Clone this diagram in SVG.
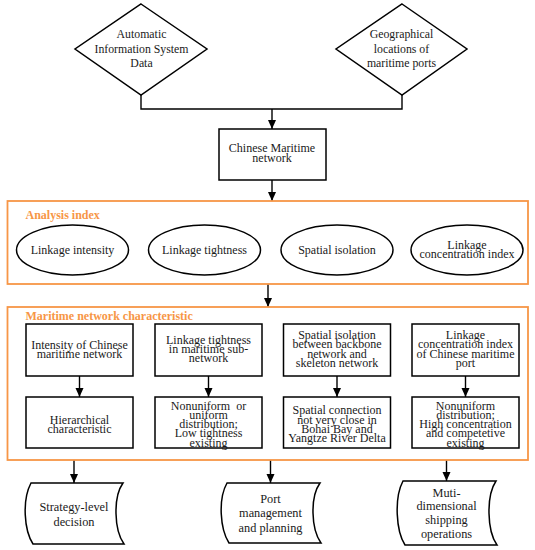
<svg xmlns="http://www.w3.org/2000/svg" width="535" height="550" viewBox="0 0 535 550">
<defs>
<marker id="arr" markerWidth="10" markerHeight="10" refX="9" refY="4" orient="auto" markerUnits="userSpaceOnUse">
<path d="M0,0 L9,4 L0,8 Z" fill="#000"/>
</marker>
<style>
.s{fill:#fff;stroke:#000;stroke-width:1.5}
.o{fill:none;stroke:#F79646;stroke-width:1.8}
.c{fill:none;stroke:#000;stroke-width:1.4}
.a{fill:none;stroke:#000;stroke-width:1.4;marker-end:url(#arr)}
text{font-family:"Liberation Serif","DejaVu Serif",serif;fill:#1a1a1a;text-anchor:middle}
.t{font-size:12px}
.d{font-size:11.8px}
.b{font-size:12.3px}
.lab{font-size:12px;font-weight:bold;fill:#F79646;text-anchor:start}
</style>
</defs>
<rect width="535" height="550" fill="#fff"/>

<g id="connectors">
<path class="c" d="M141,95 V109 H402 V95"/>
<line class="a" x1="272" y1="109" x2="272" y2="129"/>
<line class="a" x1="272" y1="180" x2="272" y2="201"/>
<line class="a" x1="268" y1="284" x2="268" y2="307"/>
<line class="a" x1="79.5" y1="376" x2="79.5" y2="397"/>
<line class="a" x1="208.5" y1="376" x2="208.5" y2="397"/>
<line class="a" x1="337" y1="376" x2="337" y2="397"/>
<line class="a" x1="465.5" y1="376" x2="465.5" y2="397"/>
<line class="a" x1="74" y1="460" x2="74" y2="483"/>
<line class="a" x1="270.5" y1="460" x2="270.5" y2="483"/>
<line class="a" x1="446.5" y1="460" x2="446.5" y2="481"/>
</g>

<g id="ais">
<polygon class="s" points="141,4 207,49 141,95 75,49"/>
<text class="d" x="141.5" y="38">Automatic</text>
<text class="d" x="141.5" y="53">Information System</text>
<text class="d" x="141.5" y="67">Data</text>
</g>
<g id="geo">
<polygon class="s" points="402,4 467,49 402,95 336,49"/>
<text class="d" x="401.5" y="38">Geographical</text>
<text class="d" x="401.5" y="53">locations of</text>
<text class="d" x="401.5" y="67">maritime ports</text>
</g>
<g id="cmn">
<rect class="s" x="219" y="129" width="107" height="51"/>
<text class="t" x="272" y="152">Chinese Maritime</text>
<text class="t" x="272" y="162">network</text>
</g>

<g id="analysis">
<rect class="o" x="7.5" y="201" width="520.5" height="83"/>
<text class="lab" x="25.5" y="219">Analysis index</text>
</g>
<g id="e1"><ellipse class="s" cx="72.5" cy="250" rx="56" ry="25"/><text class="t" x="72.5" y="254">Linkage intensity</text></g>
<g id="e2"><ellipse class="s" cx="204.5" cy="250" rx="56" ry="25"/><text class="t" x="204.5" y="254">Linkage tightness</text></g>
<g id="e3"><ellipse class="s" cx="337" cy="250" rx="56" ry="25"/><text class="t" x="337" y="254">Spatial isolation</text></g>
<g id="e4"><ellipse class="s" cx="467" cy="250" rx="56" ry="25"/><text class="t" x="467" y="248.5">Linkage</text><text class="t" x="467" y="258">concentration index</text></g>

<g id="characteristic">
<rect class="o" x="7.5" y="307" width="520.5" height="153"/>
<text class="lab" x="25.5" y="319.5">Maritime network characteristic</text>
</g>
<g id="b1"><rect class="s" x="26" y="324" width="107" height="52"/>
<text class="t" x="79.5" y="348.5">Intensity of Chinese</text>
<text class="t" x="79.5" y="357.8">maritime network</text></g>
<g id="b2"><rect class="s" x="155" y="324" width="107" height="52"/>
<text class="t" x="208.5" y="344">Linkage tightness</text>
<text class="t" x="208.5" y="353">in maritime sub-</text>
<text class="t" x="208.5" y="362">network</text></g>
<g id="b3"><rect class="s" x="283.5" y="324" width="107" height="52"/>
<text class="t" x="337" y="339.2">Spatial isolation</text>
<text class="t" x="337" y="348.4">between backbone</text>
<text class="t" x="337" y="357.6">network and</text>
<text class="t" x="337" y="367">skeleton network</text></g>
<g id="b4"><rect class="s" x="412" y="324" width="107" height="52"/>
<text class="t" x="465.5" y="339.2">Linkage</text>
<text class="t" x="465.5" y="348.4">concentration index</text>
<text class="t" x="465.5" y="357.6">of Chinese maritime</text>
<text class="t" x="465.5" y="367">port</text></g>

<g id="c1"><rect class="s" x="26" y="397" width="107" height="51"/>
<text class="t" x="79.5" y="423.5">Hierarchical</text>
<text class="t" x="79.5" y="433">characteristic</text></g>
<g id="c2"><rect class="s" x="155" y="397" width="107" height="51"/>
<text class="t" x="208.5" y="409.8" xml:space="preserve">Nonuniform  or</text>
<text class="t" x="208.5" y="419">uniform</text>
<text class="t" x="208.5" y="428">distribution;</text>
<text class="t" x="208.5" y="437.2">Low tightness</text>
<text class="t" x="208.5" y="446.5">existing</text></g>
<g id="c3"><rect class="s" x="283.5" y="397" width="107" height="51"/>
<text class="t" x="337" y="414.2">Spatial connection</text>
<text class="t" x="337" y="423.5">not very close in</text>
<text class="t" x="337" y="433">Bohai Bay and</text>
<text class="t" x="337" y="442.2">Yangtze River Delta</text></g>
<g id="c4"><rect class="s" x="412" y="397" width="107" height="51"/>
<text class="t" x="465.5" y="409.8">Nonuniform</text>
<text class="t" x="465.5" y="419">distribution;</text>
<text class="t" x="465.5" y="428">High concentration</text>
<text class="t" x="465.5" y="437.2">and competetive</text>
<text class="t" x="465.5" y="446.5">existing</text></g>

<g id="d1"><path class="s" d="M31,483 L123,483 C113,497 114,530 124,544 L33,544 C24,530 22,500 31,483 Z"/>
<text class="b" x="74" y="511">Strategy-level</text>
<text class="b" x="74" y="526">decision</text></g>
<g id="d2"><path class="s" d="M227,483 L320,483 C310,497 311,529 321,543 L229,543 C220,529 218,499 227,483 Z"/>
<text class="b" x="270.5" y="503">Port</text>
<text class="b" x="270.5" y="517">management</text>
<text class="b" x="270.5" y="532">and planning</text></g>
<g id="d3"><path class="s" d="M403,481 L496,481 C486,496 487,531 497,545 L405,545 C396,531 394,498 403,481 Z"/>
<text class="b" x="446.5" y="497">Muti-</text>
<text class="b" x="446.5" y="510">dimensional</text>
<text class="b" x="446.5" y="524">shipping</text>
<text class="b" x="446.5" y="538">operations</text></g>
</svg>
